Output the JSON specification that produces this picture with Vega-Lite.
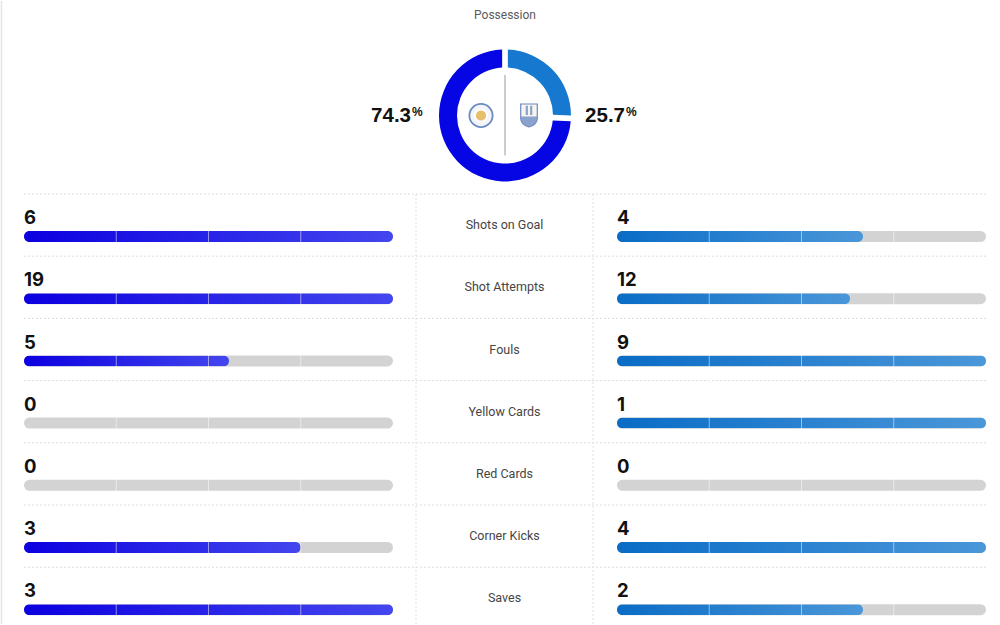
{
  "$schema": "https://vega.github.io/schema/vega-lite/v6.json",
  "width": 1000,
  "height": 625,
  "autosize": {"type": "fit", "contains": "padding"},
  "padding": 0,
  "background": "white",
  "config": {"view": {"stroke": null}},
  "datasets": {
    "possession": [
      {"match": "Leicester City v Huddersfield Town", "team": "Leicester City", "side": "home", "share": 74.3},
      {"match": "Leicester City v Huddersfield Town", "team": "Huddersfield Town", "side": "away", "share": 25.7}
    ],
    "stats": [
      {"stat": "Shots on Goal", "home": 6, "away": 4},
      {"stat": "Shot Attempts", "home": 19, "away": 12},
      {"stat": "Fouls", "home": 5, "away": 9},
      {"stat": "Yellow Cards", "home": 0, "away": 1},
      {"stat": "Red Cards", "home": 0, "away": 0},
      {"stat": "Corner Kicks", "home": 3, "away": 4},
      {"stat": "Saves", "home": 3, "away": 2}
    ],
    "quarters": [{"q": 0.25}, {"q": 0.5}, {"q": 0.75}]
  },
  "layer": [
    {
      "data": {"values": [{"edge": 0}]},
      "mark": {"type": "rule", "color": "#e4e4e4", "strokeWidth": 1.5},
      "encoding": {
        "x": {"field": "edge", "type": "quantitative", "scale": {"domain": [0, 1], "range": [1.5, 1000]}, "axis": null},
        "y": {"datum": 0, "type": "quantitative", "scale": {"domain": [0, 1], "range": [1, 624]}, "axis": null},
        "y2": {"datum": 1}
      }
    },
    {
      "data": {"name": "stats"},
      "mark": {"type": "rule", "color": "#dcdcdc", "strokeWidth": 1, "strokeDash": [2, 2]},
      "encoding": {
        "x": {"datum": 0, "type": "quantitative", "scale": {"domain": [0, 1], "range": [24, 987]}, "axis": null},
        "x2": {"datum": 1},
        "y": {"field": "stat", "type": "nominal", "bandPosition": 0, "scale": {"type": "band", "domain": ["Shots on Goal", "Shot Attempts", "Fouls", "Yellow Cards", "Red Cards", "Corner Kicks", "Saves"], "range": [194, 629.4], "paddingInner": 0, "paddingOuter": 0}, "axis": null}
      }
    },
    {
      "data": {"values": [{"edge": 0}, {"edge": 1}]},
      "mark": {"type": "rule", "color": "#e2e2e2", "strokeWidth": 1, "strokeDash": [2, 2]},
      "encoding": {
        "x": {"field": "edge", "type": "quantitative", "scale": {"domain": [0, 1], "range": [416, 593]}, "axis": null},
        "y": {"datum": 0, "type": "quantitative", "scale": {"domain": [0, 1], "range": [194, 624]}, "axis": null},
        "y2": {"datum": 1}
      }
    },
    {
      "data": {"name": "stats"},
      "mark": {"type": "rule", "color": "#d3d3d3", "strokeWidth": 11, "strokeCap": "round", "yOffset": 11.4},
      "encoding": {
        "x": {"datum": 0, "type": "quantitative", "scale": {"domain": [0, 1], "range": [29.5, 387.5]}, "axis": null},
        "x2": {"datum": 1},
        "y": {"field": "stat", "type": "nominal", "bandPosition": 0.5, "scale": {"type": "band", "domain": ["Shots on Goal", "Shot Attempts", "Fouls", "Yellow Cards", "Red Cards", "Corner Kicks", "Saves"], "range": [194, 629.4], "paddingInner": 0, "paddingOuter": 0}, "axis": null}
      }
    },
    {
      "data": {"name": "stats"},
      "mark": {"type": "rule", "color": "#d3d3d3", "strokeWidth": 11, "strokeCap": "round", "yOffset": 11.4},
      "encoding": {
        "x": {"datum": 0, "type": "quantitative", "scale": {"domain": [0, 1], "range": [622.5, 980.5]}, "axis": null},
        "x2": {"datum": 1},
        "y": {"field": "stat", "type": "nominal", "bandPosition": 0.5, "scale": {"type": "band", "domain": ["Shots on Goal", "Shot Attempts", "Fouls", "Yellow Cards", "Red Cards", "Corner Kicks", "Saves"], "range": [194, 629.4], "paddingInner": 0, "paddingOuter": 0}, "axis": null}
      }
    },
    {
      "data": {"name": "stats"},
      "transform": [
        {"calculate": "max(datum.home, datum.away)", "as": "mx"},
        {"calculate": "datum.mx > 0 ? datum.home / datum.mx : 0", "as": "frac"},
        {"filter": "datum.frac > 0"}
      ],
      "mark": {"type": "bar", "height": 11, "cornerRadius": 5.5, "yOffset": 11.4,
        "color": {"gradient": "linear", "stops": [{"offset": 0, "color": "#0c00e0"}, {"offset": 1, "color": "#4446ee"}]}},
      "encoding": {
        "y": {"field": "stat", "type": "nominal", "scale": {"type": "band", "domain": ["Shots on Goal", "Shot Attempts", "Fouls", "Yellow Cards", "Red Cards", "Corner Kicks", "Saves"], "range": [194, 629.4], "paddingInner": 0, "paddingOuter": 0}, "axis": null},
        "x": {"field": "frac", "type": "quantitative", "scale": {"domain": [0, 1], "range": [24, 393]}, "axis": null}
      }
    },
    {
      "data": {"name": "stats"},
      "transform": [
        {"calculate": "max(datum.home, datum.away)", "as": "mx"},
        {"calculate": "datum.mx > 0 ? datum.away / datum.mx : 0", "as": "frac"},
        {"filter": "datum.frac > 0"}
      ],
      "mark": {"type": "bar", "height": 11, "cornerRadius": 5.5, "yOffset": 11.4,
        "color": {"gradient": "linear", "stops": [{"offset": 0, "color": "#0a6cc6"}, {"offset": 1, "color": "#4a97d9"}]}},
      "encoding": {
        "y": {"field": "stat", "type": "nominal", "scale": {"type": "band", "domain": ["Shots on Goal", "Shot Attempts", "Fouls", "Yellow Cards", "Red Cards", "Corner Kicks", "Saves"], "range": [194, 629.4], "paddingInner": 0, "paddingOuter": 0}, "axis": null},
        "x": {"field": "frac", "type": "quantitative", "scale": {"domain": [0, 1], "range": [617, 986]}, "axis": null}
      }
    },
    {
      "data": {"name": "quarters"},
      "mark": {"type": "rule", "color": "#ffffff", "strokeWidth": 1, "opacity": 0.5},
      "encoding": {
        "x": {"field": "q", "type": "quantitative", "scale": {"domain": [0, 1], "range": [24, 393]}, "axis": null},
        "y": {"datum": 0, "type": "quantitative", "scale": {"domain": [0, 1], "range": [194, 624]}, "axis": null},
        "y2": {"datum": 1}
      }
    },
    {
      "data": {"name": "quarters"},
      "mark": {"type": "rule", "color": "#ffffff", "strokeWidth": 1, "opacity": 0.5},
      "encoding": {
        "x": {"field": "q", "type": "quantitative", "scale": {"domain": [0, 1], "range": [617, 986]}, "axis": null},
        "y": {"datum": 0, "type": "quantitative", "scale": {"domain": [0, 1], "range": [194, 624]}, "axis": null},
        "y2": {"datum": 1}
      }
    },
    {
      "data": {"name": "stats"},
      "mark": {"type": "text", "font": "Inter", "fontWeight": "bold", "fontSize": 18.5, "color": "#111111", "align": "left", "baseline": "alphabetic", "dy": -1},
      "encoding": {
        "y": {"field": "stat", "type": "nominal", "scale": {"type": "band", "domain": ["Shots on Goal", "Shot Attempts", "Fouls", "Yellow Cards", "Red Cards", "Corner Kicks", "Saves"], "range": [194, 629.4], "paddingInner": 0, "paddingOuter": 0}, "axis": null},
        "x": {"datum": 0, "type": "quantitative", "scale": {"domain": [0, 1], "range": [24, 393]}, "axis": null},
        "text": {"field": "home", "type": "quantitative"}
      }
    },
    {
      "data": {"name": "stats"},
      "mark": {"type": "text", "font": "Inter", "fontWeight": "bold", "fontSize": 18.5, "color": "#111111", "align": "left", "baseline": "alphabetic", "dy": -1},
      "encoding": {
        "y": {"field": "stat", "type": "nominal", "scale": {"type": "band", "domain": ["Shots on Goal", "Shot Attempts", "Fouls", "Yellow Cards", "Red Cards", "Corner Kicks", "Saves"], "range": [194, 629.4], "paddingInner": 0, "paddingOuter": 0}, "axis": null},
        "x": {"datum": 0, "type": "quantitative", "scale": {"domain": [0, 1], "range": [617, 986]}, "axis": null},
        "text": {"field": "away", "type": "quantitative"}
      }
    },
    {
      "data": {"name": "stats"},
      "mark": {"type": "text", "font": "Roboto", "fontSize": 12.5, "color": "#454545", "align": "center", "baseline": "middle"},
      "encoding": {
        "y": {"field": "stat", "type": "nominal", "scale": {"type": "band", "domain": ["Shots on Goal", "Shot Attempts", "Fouls", "Yellow Cards", "Red Cards", "Corner Kicks", "Saves"], "range": [194, 629.4], "paddingInner": 0, "paddingOuter": 0}, "axis": null},
        "x": {"datum": 0.5, "type": "quantitative", "scale": {"domain": [0, 1], "range": [416, 593]}, "axis": null},
        "text": {"field": "stat", "type": "nominal"}
      }
    },
    {
      "data": {"name": "possession"},
      "mark": {"type": "arc", "outerRadius": 66, "innerRadius": 48, "padAngle": 0.07},
      "encoding": {
        "x": {"field": "match", "type": "nominal", "scale": {"type": "point", "range": [439, 571]}, "axis": null},
        "y": {"field": "match", "type": "nominal", "scale": {"type": "point", "range": [49, 182]}, "axis": null},
        "theta": {"field": "share", "type": "quantitative", "stack": true},
        "color": {"field": "side", "type": "nominal", "scale": {"domain": ["home", "away"], "range": ["#0606e4", "#1679cf"]}, "legend": null},
        "order": {"field": "side", "type": "nominal", "sort": "ascending"}
      }
    },
    {
      "data": {"name": "possession"},
      "transform": [{"filter": "datum.side == 'home'"}],
      "mark": {"type": "rule", "color": "#9a9a9a", "strokeWidth": 1},
      "encoding": {
        "x": {"field": "match", "type": "nominal", "scale": {"type": "point", "range": [439, 571]}, "axis": null},
        "y": {"datum": -0.61, "type": "quantitative", "scale": {"domain": [-1, 1], "range": [49, 182]}, "axis": null},
        "y2": {"datum": 0.6}
      }
    },
    {
      "data": {"name": "possession"},
      "transform": [{"filter": "datum.side == 'home'"}],
      "mark": {"type": "point", "shape": "circle", "filled": true, "fill": "#eef2f9", "stroke": "#2c5aa8", "strokeWidth": 1.8, "size": 540},
      "encoding": {
        "x": {"field": "side", "type": "nominal", "scale": {"type": "point", "domain": ["home", "away"], "range": [481, 529], "padding": 0}, "axis": null},
        "y": {"field": "match", "type": "nominal", "scale": {"type": "point", "range": [49, 182]}, "axis": null}
      }
    },
    {
      "data": {"name": "possession"},
      "transform": [{"filter": "datum.side == 'home'"}],
      "mark": {"type": "point", "shape": "circle", "filled": true, "fill": "#e3a72c", "stroke": "#ffffff", "strokeWidth": 2, "size": 150},
      "encoding": {
        "x": {"field": "side", "type": "nominal", "scale": {"type": "point", "domain": ["home", "away"], "range": [481, 529], "padding": 0}, "axis": null},
        "y": {"field": "match", "type": "nominal", "scale": {"type": "point", "range": [49, 182]}, "axis": null}
      }
    },
    {
      "data": {"name": "possession"},
      "transform": [{"filter": "datum.side == 'away'"}],
      "mark": {"type": "point", "shape": "M-0.72,-1L0.72,-1L0.72,0.25C0.72,0.7,0.3,0.9,0,1C-0.3,0.9,-0.72,0.7,-0.72,0.25Z", "filled": true, "fill": "#f4f1e6", "stroke": "#2f57a6", "strokeWidth": 1.2, "size": 529},
      "encoding": {
        "x": {"field": "side", "type": "nominal", "scale": {"type": "point", "domain": ["home", "away"], "range": [481, 529], "padding": 0}, "axis": null},
        "y": {"field": "match", "type": "nominal", "scale": {"type": "point", "range": [49, 182]}, "axis": null}
      }
    },
    {
      "data": {"name": "possession"},
      "transform": [{"filter": "datum.side == 'away'"}],
      "mark": {"type": "point", "shape": "M-0.72,0.1L0.72,0.1L0.72,0.25C0.72,0.7,0.3,0.9,0,1C-0.3,0.9,-0.72,0.7,-0.72,0.25Z M-0.3,-0.9L-0.1,-0.9L-0.1,-0.05L-0.3,-0.05Z M0.1,-0.9L0.3,-0.9L0.3,-0.05L0.1,-0.05Z", "filled": true, "fill": "#5a7fc0", "size": 480},
      "encoding": {
        "x": {"field": "side", "type": "nominal", "scale": {"type": "point", "domain": ["home", "away"], "range": [481, 529], "padding": 0}, "axis": null},
        "y": {"field": "match", "type": "nominal", "scale": {"type": "point", "range": [49, 182]}, "axis": null}
      }
    },
    {
      "data": {"values": [{"label": "Possession"}]},
      "mark": {"type": "text", "font": "Roboto", "fontSize": 12, "color": "#5a5a5a", "baseline": "middle", "align": "center"},
      "encoding": {
        "x": {"field": "label", "type": "nominal", "scale": {"type": "point", "range": [439, 571]}, "axis": null},
        "y": {"field": "label", "type": "nominal", "scale": {"type": "point", "range": [0, 30]}, "axis": null},
        "text": {"field": "label", "type": "nominal"}
      }
    },
    {
      "data": {"name": "possession"},
      "mark": {"type": "text", "font": "Liberation Sans", "fontWeight": "bold", "fontSize": 20.5, "color": "#111111", "align": "right", "baseline": "alphabetic", "dy": 6},
      "encoding": {
        "x": {"field": "side", "type": "nominal", "scale": {"type": "point", "domain": ["home", "away"], "range": [411, 625], "padding": 0}, "axis": null},
        "y": {"field": "match", "type": "nominal", "scale": {"type": "point", "range": [49, 182]}, "axis": null},
        "text": {"field": "share", "type": "quantitative", "format": ".1f"}
      }
    },
    {
      "data": {"name": "possession"},
      "mark": {"type": "text", "font": "Liberation Sans", "fontWeight": "bold", "fontSize": 12, "color": "#111111", "align": "left", "baseline": "top", "dy": -9, "dx": 1, "text": "%"},
      "encoding": {
        "x": {"field": "side", "type": "nominal", "scale": {"type": "point", "domain": ["home", "away"], "range": [411, 625], "padding": 0}, "axis": null},
        "y": {"field": "match", "type": "nominal", "scale": {"type": "point", "range": [49, 182]}, "axis": null}
      }
    }
  ],
  "resolve": {"scale": {"x": "independent", "y": "independent"}, "axis": {"x": "independent", "y": "independent"}}
}
